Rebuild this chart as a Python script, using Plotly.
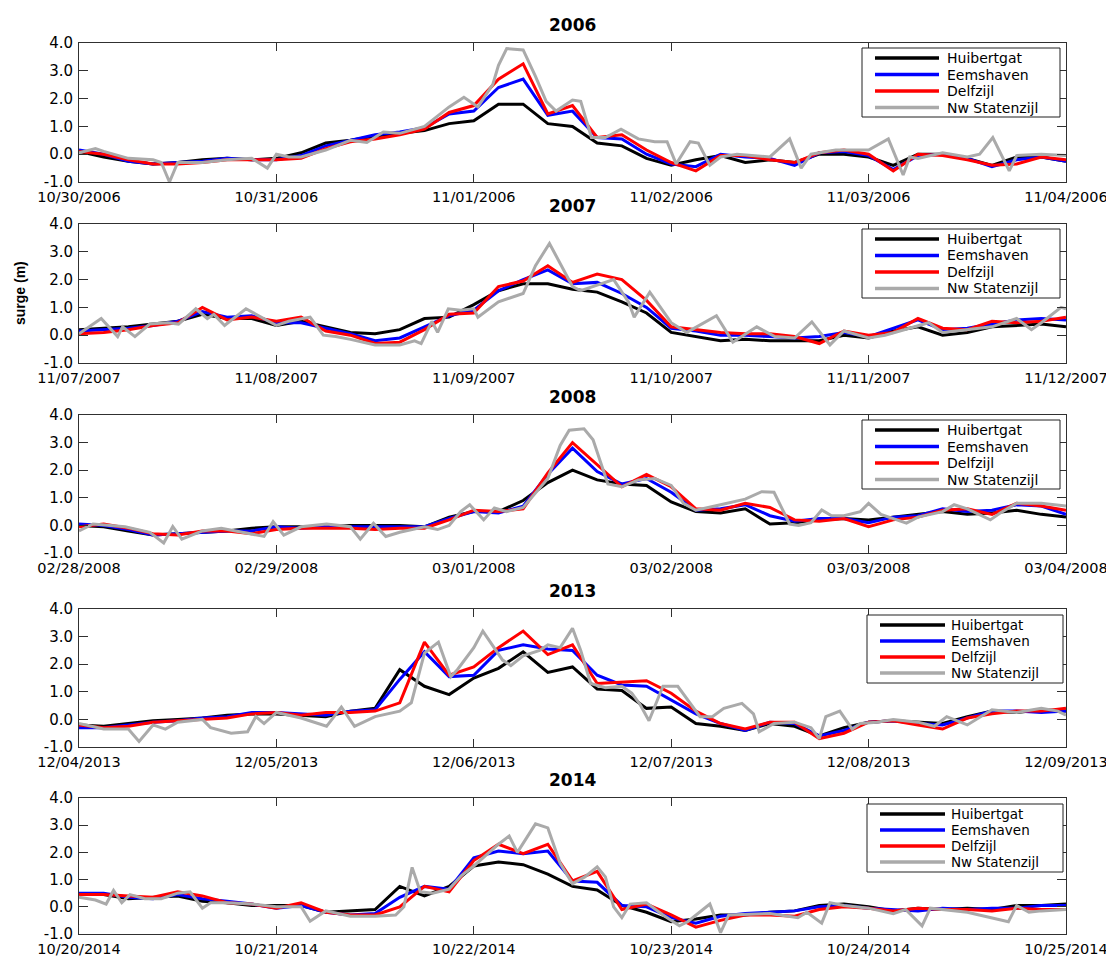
import plotly.graph_objects as go
from datetime import datetime, timedelta

# target picture size and the page offset (default 8px body margin of the html page)
W_PAGE, H_PAGE = 1114, 959
OFF = 8
W, H = W_PAGE - OFF, H_PAGE - OFF
HOURS = list(range(0, 121, 3))  # 3-hourly sampling over the 5 days of each panel

YTICKS = [-1, 0, 1, 2, 3, 4]
YTICK_TEXT = ["-1.0", "0.0", "1.0", "2.0", "3.0", "4.0"]
STATIONS = ["Huibertgat", "Eemshaven", "Delfzijl", "Nw Statenzijl"]
COLORS = ["#000000", "#0000ff", "#ff0000", "#aaaaaa"]
TITLES = ["2006", "2007", "2008", "2013", "2014"]
STARTS = ["2006-10-30", "2007-11-07", "2008-02-28", "2013-12-04", "2014-10-20"]

# ---------------- 2006 ----------------
huib_2006 = [0.1, -0.1, -0.25, -0.35, -0.3, -0.2, -0.15, -0.2, -0.15, 0.05,
             0.4, 0.5, 0.65, 0.75, 0.85, 1.1, 1.2, 1.8, 1.8, 1.1,
             1.0, 0.4, 0.3, -0.15, -0.4, -0.2, -0.05, -0.3, -0.2, -0.3,
             0.0, 0.0, -0.1, -0.4, 0.0, 0.0, -0.15, -0.4, -0.1, -0.1,
             -0.25]
eems_2006 = [0.15, 0.0, -0.25, -0.35, -0.3, -0.25, -0.15, -0.2, -0.2, -0.05,
             0.3, 0.5, 0.7, 0.8, 0.95, 1.45, 1.55, 2.4, 2.7, 1.4,
             1.55, 0.6, 0.55, 0.0, -0.35, -0.45, 0.0, -0.1, -0.15, -0.4,
             0.05, 0.1, -0.05, -0.55, -0.05, 0.0, -0.15, -0.45, -0.2, -0.1,
             -0.25]
delf_2006 = [0.1, 0.0, -0.2, -0.35, -0.35, -0.3, -0.2, -0.2, -0.2, -0.15,
             0.2, 0.45, 0.55, 0.7, 0.9, 1.5, 1.75, 2.7, 3.25, 1.45,
             1.75, 0.6, 0.7, 0.15, -0.3, -0.6, -0.05, -0.05, -0.2, -0.3,
             0.05, 0.15, 0.0, -0.6, 0.0, -0.05, -0.2, -0.4, -0.35, -0.1,
             -0.2]
nws_2006_h = [0, 2, 3, 6, 9, 10, 11, 12, 15, 18,
              21, 22.9, 24, 25.5, 27, 30, 33, 35, 37, 39,
              42, 45, 46.8, 48.5, 50.3, 51, 52, 54, 55.5, 56.8,
              58, 60, 61, 62.3, 64, 65.9, 68, 70, 71.5, 72.6,
              74.3, 75.3, 76.7, 78, 80, 84, 86.4, 87.8, 89, 92,
              96, 98.4, 100.2, 101, 102, 105, 108, 109.5, 111.1, 113.1,
              114, 117, 120]
nws_2006_v = [0.05, 0.2, 0.1, -0.15, -0.2, -0.3, -1.0, -0.3, -0.3, -0.2,
              -0.15, -0.5, 0.0, -0.1, -0.1, 0.15, 0.5, 0.42, 0.8, 0.75,
              1.0, 1.7, 2.05, 1.7, 2.5, 3.2, 3.8, 3.75, 2.8, 1.9,
              1.55, 1.95, 1.9, 0.6, 0.6, 0.9, 0.55, 0.45, 0.45, -0.35,
              0.45, 0.4, -0.4, -0.1, 0.0, -0.1, 0.55, -0.5, 0.0, 0.15,
              0.15, 0.55, -0.75, -0.1, -0.15, 0.05, -0.1, 0.0, 0.6, -0.6,
              -0.05, 0.0, -0.05]

# ---------------- 2007 ----------------
huib_2007 = [0.2, 0.25, 0.3, 0.4, 0.5, 0.75, 0.6, 0.6, 0.35, 0.5,
             0.3, 0.1, 0.05, 0.2, 0.6, 0.65, 1.1, 1.6, 1.85, 1.85,
             1.65, 1.55, 1.2, 0.8, 0.1, -0.05, -0.2, -0.15, -0.2, -0.2,
             -0.2, 0.0, -0.1, 0.15, 0.3, 0.0, 0.1, 0.3, 0.35, 0.4,
             0.3]
eems_2007 = [0.15, 0.2, 0.25, 0.35, 0.5, 0.85, 0.65, 0.7, 0.45, 0.45,
             0.25, 0.05, -0.2, -0.1, 0.3, 0.7, 0.9, 1.6, 2.0, 2.35,
             1.85, 1.9, 1.5, 1.0, 0.25, 0.15, 0.0, 0.0, -0.05, -0.1,
             -0.05, 0.1, -0.05, 0.25, 0.55, 0.2, 0.25, 0.4, 0.55, 0.6,
             0.55]
delf_2007 = [0.05, 0.1, 0.2, 0.35, 0.45, 1.0, 0.55, 0.65, 0.5, 0.65,
             0.15, 0.0, -0.3, -0.25, 0.2, 0.75, 0.8, 1.75, 1.95, 2.5,
             1.9, 2.2, 2.0, 1.25, 0.3, 0.2, 0.1, 0.05, 0.05, -0.05,
             -0.3, 0.15, 0.0, 0.1, 0.6, 0.25, 0.2, 0.5, 0.45, 0.5,
             0.65]
nws_2007_h = [0, 2.7, 4.7, 5.3, 6.8, 8.6, 10.8, 12.1, 14.2, 15.6,
              16.4, 17.7, 20.3, 22.5, 24, 25.5, 28.1, 29.7, 31.2, 33,
              36, 39, 40.8, 41.6, 42.9, 43.6, 44.9, 46.4, 48, 48.5,
              51, 54, 55.5, 57.2, 60, 61, 65, 66.8, 67.5, 69.4,
              72, 73.9, 77.5, 79.5, 82.4, 84.6, 87, 89.1, 91.3, 93,
              96, 98, 103.3, 105, 108, 111, 114, 115.8, 117, 119.4,
              120]
nws_2007_v = [0.05, 0.6, -0.05, 0.3, -0.05, 0.4, 0.45, 0.4, 0.95, 0.6,
              0.75, 0.35, 0.95, 0.6, 0.35, 0.5, 0.65, 0.0, -0.05, -0.15,
              -0.35, -0.35, -0.2, -0.3, 0.5, 0.1, 0.95, 0.9, 0.95, 0.65,
              1.2, 1.5, 2.5, 3.3, 1.75, 1.6, 2.0, 1.2, 0.65, 1.55,
              0.45, 0.1, 0.7, -0.25, 0.3, -0.05, -0.1, 0.48, -0.35, 0.15,
              -0.1, 0.0, 0.45, 0.1, 0.2, 0.3, 0.6, 0.2, 0.45, 1.0,
              0.95]

# ---------------- 2008 ----------------
huib_2008 = [0.0, -0.05, -0.2, -0.35, -0.3, -0.25, -0.2, -0.1, -0.05, -0.05,
             -0.05, 0.0, 0.0, 0.0, -0.05, 0.3, 0.5, 0.5, 0.9, 1.55,
             2.0, 1.65, 1.5, 1.45, 0.85, 0.5, 0.45, 0.6, 0.05, 0.1,
             0.2, 0.25, 0.2, 0.3, 0.4, 0.5, 0.4, 0.45, 0.55, 0.4,
             0.3]
eems_2008 = [0.05, 0.0, -0.15, -0.35, -0.3, -0.25, -0.2, -0.2, -0.05, -0.1,
             -0.05, -0.05, -0.05, -0.05, -0.05, 0.25, 0.5, 0.45, 0.7, 1.85,
             2.8, 1.95, 1.5, 1.7, 1.2, 0.55, 0.6, 0.75, 0.35, 0.15,
             0.25, 0.25, 0.1, 0.3, 0.35, 0.6, 0.5, 0.55, 0.75, 0.7,
             0.4]
delf_2008 = [-0.05, 0.05, -0.1, -0.3, -0.35, -0.2, -0.2, -0.3, -0.15, -0.1,
             -0.1, -0.1, -0.15, -0.1, -0.1, 0.2, 0.55, 0.5, 0.6, 1.9,
             3.0, 2.2, 1.4, 1.85, 1.4, 0.6, 0.55, 0.8, 0.65, 0.2,
             0.15, 0.25, -0.05, 0.2, 0.3, 0.55, 0.6, 0.4, 0.8, 0.7,
             0.55]
nws_2008_h = [0, 1.7, 5.6, 8.6, 10.3, 11.4, 12.5, 15, 17.3, 20,
              22.5, 23.6, 24.9, 27, 30.1, 33, 34.2, 35.8, 37.3, 39,
              42, 43.6, 45, 46.4, 47.5, 49.2, 50.5, 52, 54, 57,
              58.5, 59.6, 61.4, 62.5, 64.3, 66, 68, 70, 72, 73.5,
              75, 78, 81, 83, 84.5, 86.4, 87.5, 89, 90.3, 91.5,
              93, 95, 96, 97.5, 100.6, 102, 105, 106.4, 108, 110.8,
              112, 114, 117, 120]
nws_2008_v = [-0.2, 0.05, -0.05, -0.25, -0.64, -0.04, -0.5, -0.2, -0.1, -0.25,
              -0.4, 0.14, -0.35, -0.05, 0.05, -0.05, -0.5, 0.08, -0.4, -0.25,
              -0.05, -0.15, 0.0, 0.5, 0.75, 0.2, 0.63, 0.5, 0.65, 1.7,
              2.9, 3.45, 3.5, 3.1, 1.5, 1.4, 1.65, 1.7, 1.45, 0.8,
              0.55, 0.75, 0.95, 1.22, 1.2, 0.05, 0.0, 0.1, 0.56, 0.35,
              0.35, 0.5, 0.8, 0.4, 0.08, 0.3, 0.5, 0.75, 0.6, 0.2,
              0.45, 0.8, 0.8, 0.7]

# ---------------- 2013 ----------------
huib_2013 = [-0.2, -0.25, -0.15, -0.05, 0.0, 0.05, 0.15, 0.2, 0.2, 0.15,
             0.1, 0.3, 0.4, 1.8, 1.2, 0.9, 1.5, 1.85, 2.45, 1.7,
             1.9, 1.1, 1.05, 0.4, 0.45, -0.15, -0.25, -0.4, -0.15, -0.25,
             -0.6, -0.3, -0.1, -0.05, -0.1, -0.15, 0.1, 0.3, 0.25, 0.35,
             0.3]
eems_2013 = [-0.3, -0.3, -0.2, -0.1, -0.05, 0.05, 0.1, 0.25, 0.25, 0.2,
             0.15, 0.3, 0.35, 1.45, 2.45, 1.55, 1.6, 2.5, 2.7, 2.55,
             2.5, 1.6, 1.25, 1.2, 0.7, 0.2, -0.15, -0.4, -0.1, -0.15,
             -0.6, -0.4, -0.1, -0.05, -0.15, -0.2, 0.05, 0.3, 0.3, 0.25,
             0.3]
delf_2013 = [-0.2, -0.3, -0.25, -0.1, -0.05, 0.0, 0.05, 0.2, 0.25, 0.15,
             0.25, 0.25, 0.3, 0.6, 2.8, 1.6, 1.9, 2.6, 3.2, 2.35,
             2.7, 1.3, 1.35, 1.4, 0.95, 0.3, -0.15, -0.35, -0.1, -0.1,
             -0.7, -0.5, -0.1, -0.05, -0.2, -0.35, 0.05, 0.2, 0.3, 0.3,
             0.4]
nws_2013_h = [0, 3, 6, 7.3, 9, 10.5, 12, 15, 16, 18.5,
              20.5, 21.5, 22.5, 24, 27, 30.1, 31.9, 33.5, 36, 39,
              40.4, 41.2, 42, 43.7, 45.2, 46, 48, 49.1, 51.5, 52.5,
              54, 56, 57, 58.5, 60, 61, 62.2, 64, 66, 67.2,
              68.2, 69.3, 71, 72.8, 74, 75.5, 77, 78.4, 80.6, 82,
              82.7, 84.5, 87, 89, 90, 90.8, 92.5, 94, 95, 97,
              99, 102, 104, 105.5, 108, 110, 111, 114, 117, 119,
              120]
nws_2013_v = [-0.15, -0.35, -0.35, -0.8, -0.2, -0.35, -0.1, 0.0, -0.3, -0.5,
              -0.45, 0.1, -0.15, 0.25, 0.05, -0.25, 0.45, -0.25, 0.1, 0.3,
              0.6, 1.5, 2.4, 2.8, 1.55, 1.8, 2.6, 3.2, 2.15, 1.95,
              2.3, 2.5, 2.7, 2.6, 3.3, 2.5, 1.3, 1.15, 1.2, 0.95,
              0.55, -0.05, 1.2, 1.2, 0.7, 0.1, 0.1, 0.4, 0.58, 0.2,
              -0.45, -0.15, -0.1, -0.3, -0.7, 0.1, 0.3, -0.35, -0.15, -0.1,
              0.0, -0.1, -0.25, 0.1, -0.2, 0.15, 0.35, 0.25, 0.4, 0.3,
              0.15]

# ---------------- 2014 ----------------
huib_2014 = [0.45, 0.45, 0.3, 0.35, 0.4, 0.2, 0.15, 0.05, 0.05, 0.05,
             -0.2, -0.15, -0.1, 0.75, 0.4, 0.75, 1.5, 1.65, 1.55, 1.2,
             0.75, 0.62, 0.05, -0.2, -0.55, -0.45, -0.3, -0.3, -0.2, -0.15,
             0.05, 0.1, 0.0, -0.15, -0.05, -0.1, -0.05, -0.1, 0.05, 0.05,
             0.1]
eems_2014 = [0.5, 0.5, 0.35, 0.3, 0.45, 0.3, 0.2, 0.1, -0.05, 0.05,
             -0.2, -0.3, -0.25, 0.35, 0.75, 0.65, 1.8, 2.05, 1.95, 2.05,
             0.95, 0.9, 0.05, 0.0, -0.4, -0.6, -0.35, -0.25, -0.2, -0.15,
             0.0, 0.05, -0.05, -0.1, -0.15, -0.05, -0.1, -0.05, -0.05, 0.05,
             0.05]
delf_2014 = [0.45, 0.45, 0.4, 0.35, 0.55, 0.4, 0.15, 0.1, -0.05, 0.15,
             -0.2, -0.3, -0.3, 0.0, 0.75, 0.55, 1.7, 2.3, 1.95, 2.3,
             0.95, 1.3, -0.1, 0.1, -0.3, -0.75, -0.5, -0.3, -0.3, -0.35,
             -0.1, 0.0, -0.05, -0.15, -0.05, -0.1, -0.1, -0.15, -0.05, -0.1,
             -0.1]
nws_2014_h = [0, 2, 3.3, 4.2, 5.2, 6.2, 8, 10, 12, 13.5,
              15, 16, 18, 21, 24, 27, 28.1, 30, 33, 36,
              38.5, 39.5, 40.5, 41.5, 43, 45, 46.5, 48, 51, 52.3,
              53.3, 55.5, 57, 58.5, 60, 61.5, 63, 64, 65, 66,
              67, 69, 71, 73, 74, 76.7, 78, 79, 84, 87.4,
              88.5, 90.3, 91.3, 93, 96, 99, 100.5, 102.5, 103.5, 105,
              108, 110.9, 113, 114, 115.5, 117, 120]
nws_2014_v = [0.35, 0.25, 0.1, 0.6, 0.15, 0.45, 0.3, 0.3, 0.5, 0.55,
              -0.05, 0.15, 0.15, 0.1, 0.0, 0.0, -0.53, -0.15, -0.35, -0.35,
              -0.3, 0.0, 1.45, 0.55, 0.5, 0.65, 1.15, 1.5, 2.3, 2.6,
              2.0, 3.05, 2.9, 1.6, 0.85, 1.1, 1.47, 1.1, 0.0, -0.4,
              0.1, 0.15, -0.3, -0.7, -0.55, 0.1, -0.95, -0.3, -0.25, -0.4,
              -0.2, -0.6, 0.15, 0.05, -0.05, -0.25, -0.1, -0.7, -0.05, -0.1,
              -0.2, -0.4, -0.55, 0.05, -0.2, -0.15, -0.1]

PANEL_DATA = [
    (huib_2006, eems_2006, delf_2006, nws_2006_h, nws_2006_v),
    (huib_2007, eems_2007, delf_2007, nws_2007_h, nws_2007_v),
    (huib_2008, eems_2008, delf_2008, nws_2008_h, nws_2008_v),
    (huib_2013, eems_2013, delf_2013, nws_2013_h, nws_2013_v),
    (huib_2014, eems_2014, delf_2014, nws_2014_h, nws_2014_v),
]

# ---- layout geometry (page pixels, from top-left of the picture) ----
PANEL_PX = [(43, 182), (224, 363), (415, 553), (609, 747), (798, 934)]
X0, X1 = 79, 1066
FONT = "DejaVu Sans"
AXCOL = "#303030"


def px_x(x):
    return (x - OFF) / W


def px_y(y):
    return 1 - (y - OFF) / H


fig = go.Figure()
layout = dict(width=W, height=H, margin=dict(l=0, r=0, t=0, b=0, autoexpand=False),
              paper_bgcolor="white", plot_bgcolor="white", showlegend=False)
annotations = []
shapes = []

for i, (huib, eems, delf, nh, nv) in enumerate(PANEL_DATA):
    assert len(huib) == len(HOURS) and len(eems) == len(HOURS) and len(delf) == len(HOURS), i
    assert len(nh) == len(nv), i
    n = i + 1
    xa = "x" if n == 1 else f"x{n}"
    ya = "y" if n == 1 else f"y{n}"
    start = datetime.fromisoformat(STARTS[i])
    t = [start + timedelta(hours=h) for h in HOURS]
    tg = [start + timedelta(hours=h) for h in nh]
    for name, xs, ys, col in [(STATIONS[0], t, huib, COLORS[0]),
                              (STATIONS[1], t, eems, COLORS[1]),
                              (STATIONS[2], t, delf, COLORS[2]),
                              (STATIONS[3], tg, nv, COLORS[3])]:
        fig.add_trace(go.Scatter(x=xs, y=ys, mode="lines", name=name,
                                 line=dict(color=col, width=3),
                                 xaxis=xa, yaxis=ya, hoverinfo="skip"))
    top, bot = PANEL_PX[i]
    end = start + timedelta(days=5)
    layout["xaxis" if n == 1 else f"xaxis{n}"] = dict(
        domain=[px_x(X0), px_x(X1)], anchor=ya, type="date", automargin=False,
        range=[start, end], tick0=start, dtick=86400000, tickformat="%m/%d/%Y",
        ticks="inside", ticklen=8, tickcolor=AXCOL, mirror="allticks",
        showline=True, linecolor=AXCOL, linewidth=1, showgrid=False, zeroline=False,
        ticklabelstandoff=2,
        tickfont=dict(family=FONT, size=14.5, color="black"))
    layout["yaxis" if n == 1 else f"yaxis{n}"] = dict(
        domain=[px_y(bot), px_y(top)], anchor=xa, range=[-1, 4], automargin=False,
        tickvals=YTICKS, ticktext=YTICK_TEXT,
        ticks="inside", ticklen=9, tickcolor=AXCOL, mirror="allticks",
        showline=True, linecolor=AXCOL, linewidth=1, showgrid=False, zeroline=False,
        tickfont=dict(family=FONT, size=15, color="black"), ticklabelstandoff=2)

    # panel title
    annotations.append(dict(text=f"<b>{TITLES[i]}</b>", x=px_x((X0 + X1) / 2), y=px_y(top - 18),
                            xref="paper", yref="paper", showarrow=False, xanchor="center",
                            yanchor="middle", font=dict(family=FONT, size=17, color="black")))

    # legend box (drawn per panel)
    if i < 3:
        bx0, bx1, by0, by1 = 862, 1060, top + 5, top + 74
        lx0, lx1, tx = 875, 939, 946
        rows = [top + 15, top + 31.5, top + 48, top + 64.5]
        fs = 14
    else:
        bx0, bx1, by0, by1 = 867, 1063, top + 6, top + 74
        lx0, lx1, tx = 880, 945, 950
        rows = [top + 16, top + 32, top + 48, top + 64]
        fs = 13.5
    shapes.append(dict(type="rect", xref="paper", yref="paper",
                       x0=px_x(bx0), x1=px_x(bx1), y0=px_y(by1), y1=px_y(by0),
                       line=dict(color="#202020", width=1), fillcolor="white", layer="above"))
    for k, ry in enumerate(rows):
        shapes.append(dict(type="line", xref="paper", yref="paper",
                           x0=px_x(lx0), x1=px_x(lx1), y0=px_y(ry), y1=px_y(ry),
                           line=dict(color=COLORS[k], width=3.5), layer="above"))
        annotations.append(dict(text=STATIONS[k], x=px_x(tx), y=px_y(ry), xref="paper", yref="paper",
                                showarrow=False, xanchor="left", yanchor="middle",
                                borderpad=0,
                                font=dict(family=FONT, size=fs, color="black")))

# y-axis label (on second panel)
annotations.append(dict(text="<b>surge (m)</b>", x=px_x(20), y=px_y(293), xref="paper", yref="paper",
                        showarrow=False, textangle=-90, xanchor="center", yanchor="middle",
                        font=dict(family="Liberation Sans", size=14, color="black")))

layout["annotations"] = annotations
layout["shapes"] = shapes
fig.update_layout(**layout)
fig.write_html("out.html")
